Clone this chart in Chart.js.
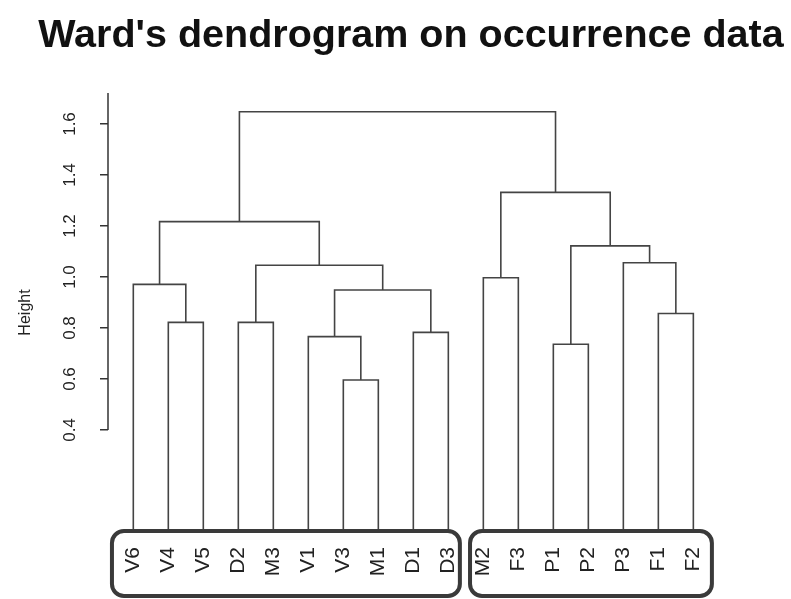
<!DOCTYPE html>
<html lang="en">
<head>
    <meta charset="UTF-8">
    <title>Ward's dendrogram on occurrence data</title>
    <script src="https://cdn.jsdelivr.net/npm/chart.js"></script>
    <style>
        body {
            margin: 0;
            background: #fff;
        }
        #wrap {
            width: 791px;
            height: 599px;
        }
    </style>
</head>
<body>
    <div id="wrap"><canvas id="chart"></canvas></div>

    <script>
        // leaves in plotting order
        const leafLabels = ['V6', 'V4', 'V5', 'D2', 'M3', 'V1', 'V3', 'M1', 'D1', 'D3',
                            'M2', 'F3', 'P1', 'P2', 'P3', 'F1', 'F2'];

        // merge k creates cluster 'c' + (k + 1)
        const mergeLeft   = ['V3', 'P1', 'V1', 'D1', 'V4', 'D2', 'F1', 'c3', 'V6', 'M2', 'c6', 'P3', 'c2', 'c9', 'c10', 'c14'];
        const mergeRight  = ['M1', 'P2', 'c1', 'D3', 'V5', 'M3', 'F2', 'c4', 'c5', 'F3', 'c8', 'c7', 'c12', 'c11', 'c13', 'c15'];
        const mergeHeight = [0.596, 0.736, 0.766, 0.783, 0.822, 0.822, 0.857, 0.949, 0.971, 0.997, 1.046, 1.056, 1.122, 1.217, 1.332, 1.648];

        const yTicks = [0.4, 0.6, 0.8, 1.0, 1.2, 1.4, 1.6];

        const titleText = "Ward's dendrogram on occurrence data";

        // build the U shapes
        const nodes = {};
        leafLabels.forEach((name, i) => { nodes[name] = { x: i, y: 0 }; });

        const datasets = mergeHeight.map((h, k) => {
            const a = nodes[mergeLeft[k]];
            const b = nodes[mergeRight[k]];
            nodes['c' + (k + 1)] = { x: (a.x + b.x) / 2, y: h };
            return {
                data: [
                    { x: a.x, y: a.y },
                    { x: a.x, y: h },
                    { x: b.x, y: h },
                    { x: b.x, y: b.y }
                ],
                showLine: true,
                borderColor: '#444',
                borderWidth: 1.6,
                pointRadius: 0,
                tension: 0
            };
        });

        // rounded boxes round the two groups, in leaf units
        const groupBoxes = [
            { from: -0.61, to: 9.33 },
            { from: 9.62, to: 16.53 }
        ];

        const dendroExtras = {
            id: 'dendroExtras',
            afterDraw(chart) {
                const { ctx, chartArea, scales } = chart;
                ctx.save();

                // y axis line, from the lowest tick up to the top
                ctx.strokeStyle = '#333';
                ctx.lineWidth = 1.5;
                ctx.beginPath();
                ctx.moveTo(chartArea.left, scales.y.getPixelForValue(yTicks[0]));
                ctx.lineTo(chartArea.left, chartArea.top);
                ctx.stroke();

                // group boxes
                ctx.strokeStyle = '#3a3a3a';
                ctx.lineWidth = 4;
                const top = scales.y.getPixelForValue(0) - 1;
                const bottom = 596;
                groupBoxes.forEach(b => {
                    const x0 = scales.x.getPixelForValue(b.from);
                    const x1 = scales.x.getPixelForValue(b.to);
                    ctx.beginPath();
                    ctx.roundRect(x0, top, x1 - x0, bottom - top, 12);
                    ctx.stroke();
                });

                // main title, centred over the plot region
                ctx.fillStyle = '#111';
                ctx.font = "bold 39.5px 'Liberation Sans', Arial, sans-serif";
                ctx.textAlign = 'center';
                ctx.textBaseline = 'alphabetic';
                ctx.fillText(titleText, (chartArea.left + chartArea.right) / 2, 47);

                ctx.restore();
            }
        };

        new Chart(document.getElementById('chart'), {
            type: 'scatter',
            data: { datasets: datasets },
            plugins: [dendroExtras],
            options: {
                responsive: true,
                maintainAspectRatio: false,
                animation: false,
                layout: {
                    padding: { top: 93, left: 0, right: 77, bottom: 0 }
                },
                plugins: {
                    legend: { display: false },
                    tooltip: { enabled: false },
                    title: { display: false }
                },
                scales: {
                    x: {
                        type: 'linear',
                        min: -0.723,
                        max: 16.59,
                        grid: { display: false, drawTicks: false },
                        border: { display: false },
                        afterBuildTicks: scale => {
                            scale.ticks = leafLabels.map((_, i) => ({ value: i }));
                        },
                        afterFit: scale => { scale.height = 67; },
                        ticks: {
                            autoSkip: false,
                            minRotation: 90,
                            maxRotation: 90,
                            padding: 15,
                            color: '#222',
                            font: { family: "'Liberation Sans', Arial, sans-serif", size: 21 },
                            callback: value => leafLabels[value]
                        }
                    },
                    y: {
                        min: 0,
                        max: 1.7216,
                        grid: {
                            drawOnChartArea: false,
                            drawTicks: true,
                            tickLength: 8,
                            color: '#333',
                            lineWidth: 1.5
                        },
                        border: { display: false },
                        afterBuildTicks: scale => {
                            scale.ticks = yTicks.map(v => ({ value: v }));
                        },
                        afterFit: scale => { scale.width = 108; },
                        ticks: {
                            minRotation: 90,
                            maxRotation: 90,
                            crossAlign: 'center',
                            padding: 18,
                            color: '#222',
                            font: { family: "'Liberation Sans', Arial, sans-serif", size: 17 },
                            callback: value => value.toFixed(1)
                        },
                        title: {
                            display: true,
                            text: 'Height',
                            color: '#222',
                            padding: { top: 16, bottom: 0 },
                            font: { family: "'Liberation Sans', Arial, sans-serif", size: 16 }
                        }
                    }
                }
            }
        });
    </script>
</body>
</html>
